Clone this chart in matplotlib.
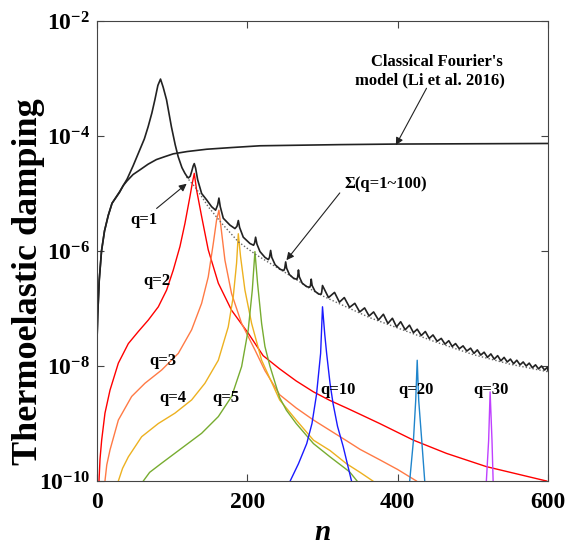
import numpy as np
import matplotlib
matplotlib.use('Agg')
import matplotlib.pyplot as plt

plt.rcParams['font.family'] = 'Liberation Serif'
plt.rcParams['font.weight'] = 'bold'
plt.rcParams['mathtext.fontset'] = 'custom'
plt.rcParams['mathtext.rm'] = 'Liberation Serif:bold'
plt.rcParams['mathtext.bf'] = 'Liberation Serif:bold'
plt.rcParams['mathtext.it'] = 'Liberation Serif:bold:italic'

# values as log10(damping)
fourier_n = [0, 1, 3, 6, 10, 15, 20, 30, 35, 40, 48, 57, 68, 79, 90, 101.5, 120, 146, 180, 217, 270, 323, 400, 500, 600]
fourier_log = [-7.55, -7.10, -6.50, -6.00, -5.65, -5.38, -5.17, -4.98, -4.86, -4.78, -4.67, -4.59, -4.49, -4.41, -4.36,
               -4.31, -4.27, -4.23, -4.20, -4.17, -4.16, -4.15, -4.14, -4.135, -4.13]

# sum over q, first part (big peak and the first spikes)
sum_n = [0, 1, 3, 6, 10, 15, 20, 30, 40, 48, 57, 63, 68, 73, 77, 81, 84.5, 88, 92.5, 99, 104, 108, 113, 117, 119.5,
         121.5, 124, 125.9, 128, 129.4, 131.2, 133.9, 139.2, 145.8, 152.5, 157.8, 160.5, 162.2, 164, 168, 176.9,
         183.5, 186.2, 188, 189.7, 194.6, 203.5, 208.3, 209.7, 211, 212.8, 216.8, 223.4, 228, 229.5, 231, 232.5,
         237, 244, 248.5, 249.8, 251, 252.3, 256, 262, 266, 267, 268, 269.2, 273, 279, 283, 284, 285, 286.2, 290,
         295, 298.3, 299]
sum_log = [-7.55, -7.10, -6.50, -6.00, -5.65, -5.38, -5.17, -4.97, -4.75, -4.52, -4.24, -4.05, -3.84, -3.60, -3.37,
           -3.12, -3.01, -3.15, -3.37, -3.84, -4.15, -4.36, -4.55, -4.65, -4.70,
           -4.73, -4.70, -4.62, -4.52, -4.48, -4.56, -4.76, -5.00, -5.11, -5.23, -5.29, -5.20, -5.08, -5.23, -5.43,
           -5.55, -5.61, -5.57, -5.47, -5.59, -5.76, -5.87, -5.90, -5.86, -5.76, -5.88, -6.01, -6.11, -6.15, -6.11,
           -5.99, -6.11, -6.24, -6.32, -6.34, -6.30, -6.19, -6.30, -6.41, -6.48, -6.49, -6.45, -6.33, -6.45, -6.56,
           -6.62, -6.63, -6.60, -6.49, -6.60, -6.70, -6.75, -6.75, -6.71]

# sum over q, dense spikes further right
peak_n = [300, 316, 329, 343, 356, 368, 381, 393, 404, 415.7, 426, 436.8, 447, 458, 468, 477, 487, 497, 506, 515,
          524, 533, 541.6, 550, 558.5, 567, 575, 583.4, 591.4, 599.3]
peak_log = [-6.60, -6.72, -6.81, -6.91, -6.99, -7.06, -7.10, -7.17, -7.23, -7.29, -7.36, -7.40, -7.46, -7.52, -7.56,
            -7.61, -7.65, -7.69, -7.72, -7.76, -7.79, -7.82, -7.85, -7.88, -7.90, -7.93, -7.95, -7.98, -8.00, -8.02]
trough_n = [308, 322.5, 336, 349.5, 362, 374.5, 387, 398.5, 410, 421, 431.4, 442, 452.5, 463, 472.5, 482, 492,
            501.5, 510.5, 519.5, 528.5, 537.3, 545.8, 554.2, 562.8, 571, 579.2, 587.4, 595.4, 600]
trough_log = [-6.81, -6.89, -6.98, -7.06, -7.13, -7.20, -7.26, -7.32, -7.37, -7.42, -7.47, -7.52, -7.57, -7.62,
              -7.66, -7.70, -7.74, -7.78, -7.81, -7.85, -7.88, -7.91, -7.93, -7.96, -7.98, -8.00, -8.03, -8.05,
              -8.07, -8.08]

# dotted lower envelope
dot_n = [119, 124, 130, 139, 148, 161, 166, 188, 211, 231, 251, 269, 285, 300, 323, 363, 421, 450, 500, 550, 600]
dot_log = [-4.71, -4.79, -4.88, -5.05, -5.23, -5.44, -5.52, -5.84, -6.06, -6.22, -6.38, -6.53, -6.67, -6.78, -6.92,
           -7.16, -7.44, -7.58, -7.80, -7.97, -8.10]

q2_n = [2.66, 4, 6.2, 10.6, 17.3, 28.4, 41.7, 55, 68.3, 81.6, 92.6, 101.5, 110.4, 117, 123.7, 126.8, 129.4,
        132.5, 139.2, 148, 161.4, 179, 201.2, 221, 243, 265, 288, 310, 332, 350, 376, 421, 465, 518, 598]
q2_log = [-10.0, -9.62, -9.29, -8.82, -8.42, -7.95, -7.61, -7.40, -7.20, -6.97, -6.68, -6.33, -5.92, -5.52, -5.05,
          -4.82, -4.65, -4.94, -5.40, -5.98, -6.56, -7.03, -7.43, -7.82, -8.05, -8.26, -8.45, -8.60, -8.73, -8.84,
          -9.00, -9.29, -9.52, -9.75, -10.0]

q3_n = [10.6, 13, 17.3, 28.4, 46.1, 63.8, 86, 108.2, 125.9, 139.2, 148, 154.7, 159.1, 162.2, 164.9, 170.2, 179,
        192.4, 210.1, 223.4, 243, 265, 288, 310, 332, 350, 376, 400, 425]
q3_log = [-10.0, -9.72, -9.46, -8.94, -8.53, -8.30, -8.07, -7.78, -7.37, -6.91, -6.45, -5.87, -5.46, -5.29, -5.58,
          -6.16, -6.74, -7.26, -7.72, -8.08, -8.50, -8.73, -8.94, -9.12, -9.30, -9.45, -9.63, -9.80, -10.0]

q4_n = [28.4, 34, 41.7, 59.4, 81.6, 103.7, 125.9, 143.6, 161.4, 174.6, 181.3, 185.7, 188, 191, 196.8, 205.7, 219,
        243, 265, 288, 310, 332, 350, 367]
q4_log = [-10.0, -9.78, -9.58, -9.23, -9.00, -8.82, -8.59, -8.30, -7.90, -7.32, -6.79, -6.21, -5.70, -6.10, -6.68,
          -7.26, -7.90, -8.59, -8.94, -9.29, -9.47, -9.70, -9.85, -10.0]

q5_n = [61.6, 70, 86, 112.6, 139.2, 161.4, 179.1, 192.4, 201.2, 206.6, 210.1, 213.6, 219, 223.4, 230, 243, 252,
        265, 288, 310, 336, 346]
q5_log = [-10.0, -9.85, -9.69, -9.43, -9.17, -8.88, -8.53, -8.01, -7.37, -6.68, -6.01, -6.56, -7.26, -7.66, -8.00,
          -8.55, -8.77, -9.00, -9.35, -9.58, -9.84, -10.0]

q10_n = [257, 268, 279, 286, 292, 297.5, 300, 303, 305.5, 310, 314, 320, 327.5, 338.6]
q10_log = [-10.0, -9.70, -9.35, -9.00, -8.50, -7.78, -6.97, -7.45, -7.78, -8.30, -8.65, -9.05, -9.40, -10.0]

q20_n = [416, 421, 424, 426, 428, 432, 436]
q20_log = [-10.0, -9.29, -8.60, -7.90, -8.60, -9.29, -10.0]

q30_n = [518, 521, 523, 525.5, 527]
q30_log = [-10.0, -9.30, -8.45, -9.30, -10.0]

colors = {'q2': '#ff0000', 'q3': '#ff7a45', 'q4': '#edb120', 'q5': '#77ac30',
          'q10': '#1a1aff', 'q20': '#1f85cc', 'q30': '#bf40ff'}

fig = plt.figure(figsize=(5.69, 5.48), dpi=100)
ax = fig.add_axes([97 / 569, 1 - 481 / 548, 451 / 569, 460 / 548])

def p(n, lg, **kw):
    ax.plot(n, 10.0 ** np.asarray(lg), **kw)

p(q2_n, q2_log, color=colors['q2'], lw=1.0)
p(q3_n, q3_log, color=colors['q3'], lw=1.0)
p(q4_n, q4_log, color=colors['q4'], lw=1.0)
p(q5_n, q5_log, color=colors['q5'], lw=1.0)
p(q10_n, q10_log, color=colors['q10'], lw=1.0)
p(q20_n, q20_log, color=colors['q20'], lw=1.0)
p(q30_n, q30_log, color=colors['q30'], lw=1.0)

p(dot_n, dot_log, color='#666666', lw=1.0, ls=(0, (1, 1.5)))
p(fourier_n, fourier_log, color='#222222', lw=1.2)

tail_n = np.concatenate([peak_n, trough_n])
tail_log = np.concatenate([peak_log, trough_log])
order = np.argsort(tail_n)
all_n = np.concatenate([sum_n, tail_n[order]])
all_log = np.concatenate([sum_log, tail_log[order]])
p(all_n, all_log, color='#222222', lw=1.2)

ax.set_yscale('log')
ax.set_xlim(0, 600)
ax.set_ylim(1e-10, 1e-2)
ax.set_xticks([0, 200, 400, 600])
ax.set_yticks([1e-10, 1e-8, 1e-6, 1e-4, 1e-2])
ax.set_yticklabels([r'$\mathbf{10^{-10}}$', r'$\mathbf{10^{-8}}$', r'$\mathbf{10^{-6}}$',
                    r'$\mathbf{10^{-4}}$', r'$\mathbf{10^{-2}}$'])
ax.minorticks_off()
ax.tick_params(direction='in', length=5, width=0.8, top=True, right=True, labelsize=17, color='#444444')
ax.tick_params(axis='x', pad=8)
ax.tick_params(axis='y', pad=5)
for lab in ax.get_xticklabels():
    lab.set_fontweight('bold')
for s in ax.spines.values():
    s.set_color('#444444')
    s.set_linewidth(0.8)

fig.text(29 / 569, 1 - 282 / 548, 'Thermoelastic damping', rotation=90, ha='center', va='center',
         fontsize=26, fontweight='bold')
fig.text(323 / 569, 1 - 540 / 548, 'n', ha='center', va='baseline', fontsize=21,
         fontweight='bold', fontstyle='italic')

lab_kw = dict(fontsize=12, fontweight='bold', ha='center', va='center')
ax.text(62.5, 10 ** -5.46, 'q=1', **lab_kw)
ax.text(79.3, 10 ** -6.52, 'q=2', **lab_kw)
ax.text(88.2, 10 ** -7.91, 'q=3', **lab_kw)
ax.text(101.5, 10 ** -8.56, 'q=4', **lab_kw)
ax.text(171.3, 10 ** -8.56, 'q=5', **lab_kw)
ax.text(320.5, 10 ** -8.42, 'q=10', **lab_kw)
ax.text(425, 10 ** -8.42, 'q=20', **lab_kw)
ax.text(524, 10 ** -8.42, 'q=30', **lab_kw)
ax.text(384, 10 ** -4.84, u'\u03a3(q=1~100)', **lab_kw)
ax.text(540, 10 ** -2.71, "Classical Fourier's", fontsize=12, fontweight='bold', ha='right', va='center')
ax.text(542, 10 ** -3.04, 'model (Li et al. 2016)', fontsize=12, fontweight='bold', ha='right', va='center')

arr = dict(arrowstyle='-|>', color='#222222', lw=0.8, mutation_scale=11, shrinkA=0, shrinkB=0)
ax.annotate('', xy=(119.3, 10 ** -4.83), xytext=(79.3, 10 ** -5.26), arrowprops=arr)
ax.annotate('', xy=(252, 10 ** -6.16), xytext=(323, 10 ** -4.99), arrowprops=arr)
ax.annotate('', xy=(397.6, 10 ** -4.16), xytext=(438.4, 10 ** -3.17), arrowprops=arr)

fig.savefig('out.png', dpi=100)
